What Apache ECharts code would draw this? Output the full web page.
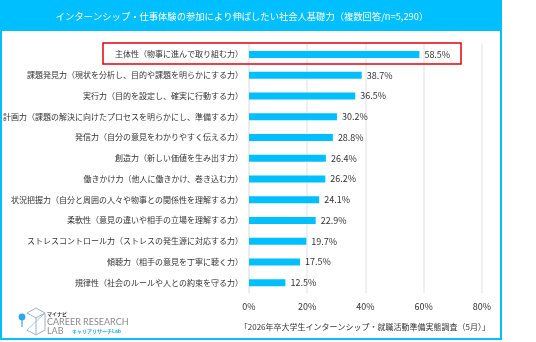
<!DOCTYPE html>
<html>
<head>
<meta charset="utf-8">
<script src="https://cdn.jsdelivr.net/npm/echarts@6/dist/echarts.min.js"></script>
<style>html,body{margin:0;padding:0;background:#fff;}#c{width:536px;height:342px;}</style>
</head>
<body>
<div id="c"></div>
<script>
var categories = [
  '主体性（物事に進んで取り組む力）',
  '課題発見力（現状を分析し、目的や課題を明らかにする力）',
  '実行力（目的を設定し、確実に行動する力）',
  '計画力（課題の解決に向けたプロセスを明らかにし、準備する力）',
  '発信力（自分の意見をわかりやすく伝える力）',
  '創造力（新しい価値を生み出す力）',
  '働きかけ力（他人に働きかけ、巻き込む力）',
  '状況把握力（自分と周囲の人々や物事との関係性を理解する力）',
  '柔軟性（意見の違いや相手の立場を理解する力）',
  'ストレスコントロール力（ストレスの発生源に対応する力）',
  '傾聴力（相手の意見を丁寧に聴く力）',
  '規律性（社会のルールや人との約束を守る力）'
];
var values = [58.5, 38.7, 36.5, 30.2, 28.8, 26.4, 26.2, 24.1, 22.9, 19.7, 17.5, 12.5];
var titleText = 'インターンシップ・仕事体験の参加により伸ばしたい社会人基礎力（複数回答/n=5,290）';
var sourceText = '「2026年卒大学生インターンシップ・就職活動準備実態調査（5月）」';

var FONT = '"Noto Sans CJK JP", "Noto Sans", sans-serif';
var CYAN = '#00BFFF';
var chart = echarts.init(document.getElementById('c'), null, {renderer: 'canvas'});
chart.setOption({
  animation: false,
  textStyle: {fontFamily: FONT},
  grid: {left: 246, right: 54, top: 44, bottom: 49, containLabel: false},
  xAxis: {
    type: 'value', min: 0, max: 80, interval: 20,
    axisLabel: {formatter: '{value}%', color: '#333', fontSize: 9, margin: 9, fontFamily: FONT},
    axisLine: {show: false}, axisTick: {show: false},
    splitLine: {lineStyle: {color: '#ebebeb', width: 1.5}}
  },
  yAxis: {
    type: 'category', data: categories, inverse: true,
    axisLabel: {color: '#333', fontSize: 8, margin: 6, fontFamily: FONT},
    axisLine: {show: true, lineStyle: {color: '#ebebeb', width: 1.5}},
    axisTick: {show: false}
  },
  series: [{
    type: 'bar', data: values, barWidth: 7,
    itemStyle: {color: CYAN},
    label: {show: true, position: 'right', distance: 5, formatter: '{c}%', color: '#333', fontSize: 9, fontFamily: FONT}
  }],
  graphic: [
    {type: 'rect', shape: {x: 1, y: 1, width: 500, height: 338}, style: {fill: 'none', stroke: CYAN, lineWidth: 2}, z: 10},
    {type: 'rect', shape: {x: 0, y: 0, width: 502, height: 31}, style: {fill: CYAN}, z: 10},
    {type: 'text', x: 242, y: 16, style: {text: titleText, fill: '#fff', fontSize: 9.3, fontFamily: FONT, align: 'center', verticalAlign: 'middle'}, z: 11},
    {type: 'rect', shape: {x: 103, y: 43, width: 358, height: 21}, style: {fill: 'none', stroke: '#e60012', lineWidth: 1.5}, z: 10},
    {type: 'text', x: 490, y: 327, style: {text: sourceText, fill: '#333', fontSize: 8, fontFamily: FONT, align: 'right', verticalAlign: 'middle'}, z: 11},
    // logo
    {type: 'polyline', shape: {points: [[27,313],[36,308],[45,313],[45,330],[36,335],[27,330]]}, style: {fill: 'none', stroke: '#9fb3c8', lineWidth: 1}, z: 11},
    {type: 'polyline', shape: {points: [[27,313],[36,318],[45,313]]}, style: {fill: 'none', stroke: '#9fb3c8', lineWidth: 1}, z: 11},
    {type: 'line', shape: {x1: 36, y1: 318, x2: 36, y2: 335}, style: {stroke: '#9fb3c8', lineWidth: 1}, z: 11},
    {type: 'line', shape: {x1: 27, y1: 330, x2: 45, y2: 313}, style: {stroke: '#9fb3c8', lineWidth: 0.8}, z: 11},
    {type: 'line', shape: {x1: 22, y1: 318, x2: 22, y2: 327}, style: {stroke: '#2a8fd8', lineWidth: 1}, z: 11},
    {type: 'circle', shape: {cx: 22, cy: 317, r: 3.4}, style: {fill: '#2aa8f0'}, z: 12},
    {type: 'text', x: 47, y: 314, style: {text: 'マイナビ', fill: '#333', fontSize: 5, fontWeight: 'bold', fontFamily: FONT, verticalAlign: 'middle'}, z: 11},
    {type: 'text', x: 47, y: 322, style: {text: 'CAREER RESEARCH', fill: '#8a8a8a', fontSize: 9, fontFamily: 'Lato, sans-serif', verticalAlign: 'middle'}, z: 11},
    {type: 'text', x: 47, y: 331, style: {text: 'LAB', fill: '#8a8a8a', fontSize: 9, fontFamily: 'Lato, sans-serif', verticalAlign: 'middle'}, z: 11},
    {type: 'text', x: 72, y: 331, style: {text: 'キャリアリサーチLab', fill: '#2aa8f0', fontSize: 5, fontWeight: 'bold', fontFamily: FONT, verticalAlign: 'middle'}, z: 11}
  ]
});
</script>
</body>
</html>
